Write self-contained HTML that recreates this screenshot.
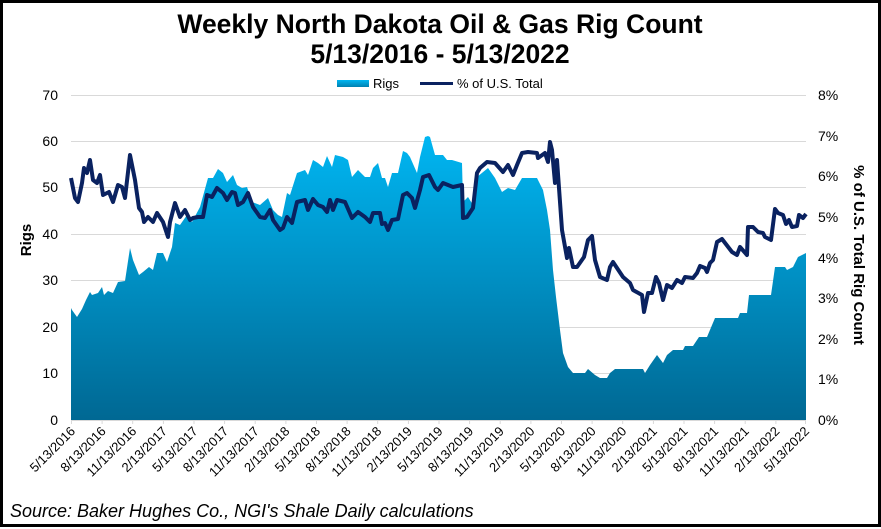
<!DOCTYPE html>
<html><head><meta charset="utf-8"><style>
html,body{margin:0;padding:0;background:#fff}
svg{display:block}
text{font-family:"Liberation Sans",Arial,sans-serif}
</style></head><body>
<svg width="881" height="529" viewBox="0 0 881 529" xmlns="http://www.w3.org/2000/svg">
<defs>
<linearGradient id="g" x1="0" y1="137" x2="0" y2="420" gradientUnits="userSpaceOnUse">
<stop offset="0" stop-color="#00b6f2"/><stop offset="1" stop-color="#006893"/>
</linearGradient>
<linearGradient id="lg" x1="0" y1="0" x2="0" y2="1"><stop offset="0" stop-color="#00b6f2"/><stop offset="1" stop-color="#0080b0"/></linearGradient>
</defs>
<rect x="1.5" y="1.5" width="878" height="524" fill="#fff" stroke="#000" stroke-width="3"/>
<text x="440" y="33" text-anchor="middle" font-size="26.5" font-weight="bold">Weekly North Dakota Oil &amp; Gas Rig Count</text>
<text x="440" y="63" text-anchor="middle" font-size="26.5" font-weight="bold">5/13/2016 - 5/13/2022</text>
<rect x="337" y="80" width="32" height="7" fill="url(#lg)"/>
<text x="373" y="88" font-size="13">Rigs</text>
<line x1="420" y1="83.5" x2="453" y2="83.5" stroke="#0a2260" stroke-width="3"/>
<text x="457" y="88" font-size="13">% of U.S. Total</text>
<g stroke="#d9d9d9" stroke-width="1">
<line x1="71" y1="95.5" x2="806" y2="95.5"/><line x1="71" y1="141.5" x2="806" y2="141.5"/><line x1="71" y1="187.5" x2="806" y2="187.5"/><line x1="71" y1="234.5" x2="806" y2="234.5"/><line x1="71" y1="280.5" x2="806" y2="280.5"/><line x1="71" y1="327.5" x2="806" y2="327.5"/><line x1="71" y1="373.5" x2="806" y2="373.5"/>
</g>
<polygon fill="url(#g)" points="71,420 71,308 72,310 77,317 82,309 86,300 90,292 92,295 98,293 102,287 104,295 108,291 113,293 118,282 125,281 130,248 133,260 139,275 143,272 149,267 153,270 157,253 163,253 167,262 172,247 175,223 180,225 187,215 192,222 200,207 208,178 213,178 218,169 223,173 227,182 233,175 237,185 242,188 247,187 252,202 260,205 268,198 273,210 278,215 282,217 287,193 290,195 297,173 305,170 308,175 313,160 318,163 323,167 327,156 332,167 335,155 343,157 348,160 352,177 358,170 365,177 370,177 373,168 378,163 382,178 385,178 388,187 392,173 398,173 403,151 407,153 410,157 417,173 420,157 425,137 428,136 430,137 435,155 443,155 447,160 452,160 462,163 463,202 468,197 473,205 477,177 488,168 495,178 502,192 508,188 515,190 522,178 537,178 543,190 547,210 550,230 553,270 556,297 560,330 563,353 568,367 573,373 585,373 588,369 595,375 600,378 607,378 610,373 615,369 643,369 645,373 650,365 657,355 663,363 667,355 673,350 683,350 685,346 693,346 699,337 707,337 715,318 738,318 740,313 747,313 749,295 771,295 775,267 785,267 787,270 793,267 798,257 806,253 806,420"/>
<polyline fill="none" stroke="#0a2260" stroke-width="4" stroke-linejoin="round" points="71,178 75,198 78,202 82,183 84,168 87,173 90,160 93,180 97,183 100,175 103,195 109,192 113,202 118,185 122,187 125,198 130,155 135,180 139,208 142,212 144,222 148,217 153,222 157,213 163,222 168,237 170,222 175,203 180,217 185,210 190,220 193,218 198,217 203,217 207,195 212,197 217,188 223,193 227,200 232,192 235,193 238,205 243,202 248,193 253,207 260,217 265,218 270,210 273,220 280,230 283,228 287,217 292,223 297,202 305,200 308,210 313,199 318,205 323,207 327,212 330,200 333,210 337,200 345,202 352,218 358,212 365,217 370,222 373,213 380,213 382,224 385,223 388,230 392,220 398,219 403,195 407,193 412,198 415,208 420,190 423,177 429,175 435,187 438,190 443,183 453,187 462,185 463,218 467,217 473,208 477,173 480,168 487,162 495,163 503,172 508,165 513,175 517,165 522,153 528,152 537,153 538,158 545,153 548,162 550,142 552,150 555,183 557,160 562,230 567,258 569,248 573,267 577,267 584,257 588,240 592,236 595,260 600,277 607,280 610,267 613,262 617,268 623,277 630,283 633,290 642,295 644,312 648,293 652,293 656,277 659,283 663,300 667,285 672,288 677,280 682,283 685,277 693,278 697,273 700,266 705,268 707,272 710,263 713,260 717,242 722,239 732,252 737,255 740,247 747,255 748,227 753,227 758,232 763,233 765,237 771,240 775,209 778,213 783,215 786,224 789,220 792,227 797,226 799,215 803,218 806,214"/>
<line x1="71" y1="420.5" x2="806" y2="420.5" stroke="#d9d9d9"/>
<g font-size="14" text-anchor="end" fill="#000">
<text x="58" y="100">70</text><text x="58" y="146">60</text><text x="58" y="192">50</text><text x="58" y="239">40</text><text x="58" y="285">30</text><text x="58" y="332">20</text><text x="58" y="378">10</text><text x="58" y="425">0</text>
</g>
<g font-size="14" fill="#000">
<text x="818" y="100">8%</text><text x="818" y="141">7%</text><text x="818" y="181">6%</text><text x="818" y="222">5%</text><text x="818" y="263">4%</text><text x="818" y="303">3%</text><text x="818" y="344">2%</text><text x="818" y="384">1%</text><text x="818" y="425">0%</text>
</g>
<text transform="translate(31,240) rotate(-90)" text-anchor="middle" font-size="15" font-weight="bold">Rigs</text>
<text transform="translate(854,255) rotate(90)" text-anchor="middle" font-size="15" font-weight="bold">% of U.S. Total Rig Count</text>
<g font-size="13" text-anchor="end" fill="#000">
<g stroke="#d9d9d9">
<line x1="71.5" y1="420" x2="71.5" y2="424"/><line x1="102.1" y1="420" x2="102.1" y2="424"/><line x1="132.7" y1="420" x2="132.7" y2="424"/><line x1="163.4" y1="420" x2="163.4" y2="424"/><line x1="194" y1="420" x2="194" y2="424"/><line x1="224.6" y1="420" x2="224.6" y2="424"/><line x1="255.2" y1="420" x2="255.2" y2="424"/><line x1="285.9" y1="420" x2="285.9" y2="424"/><line x1="316.5" y1="420" x2="316.5" y2="424"/><line x1="347.1" y1="420" x2="347.1" y2="424"/><line x1="377.7" y1="420" x2="377.7" y2="424"/><line x1="408.4" y1="420" x2="408.4" y2="424"/><line x1="439" y1="420" x2="439" y2="424"/><line x1="469.6" y1="420" x2="469.6" y2="424"/><line x1="500.2" y1="420" x2="500.2" y2="424"/><line x1="530.9" y1="420" x2="530.9" y2="424"/><line x1="561.5" y1="420" x2="561.5" y2="424"/><line x1="592.1" y1="420" x2="592.1" y2="424"/><line x1="622.7" y1="420" x2="622.7" y2="424"/><line x1="653.4" y1="420" x2="653.4" y2="424"/><line x1="684" y1="420" x2="684" y2="424"/><line x1="714.6" y1="420" x2="714.6" y2="424"/><line x1="745.2" y1="420" x2="745.2" y2="424"/><line x1="775.9" y1="420" x2="775.9" y2="424"/><line x1="805.5" y1="420" x2="805.5" y2="424"/>
</g>
<text transform="translate(76,432) rotate(-45)">5/13/2016</text>
<text transform="translate(106.6,432) rotate(-45)">8/13/2016</text>
<text transform="translate(137.2,432) rotate(-45)">11/13/2016</text>
<text transform="translate(167.9,432) rotate(-45)">2/13/2017</text>
<text transform="translate(198.5,432) rotate(-45)">5/13/2017</text>
<text transform="translate(229.1,432) rotate(-45)">8/13/2017</text>
<text transform="translate(259.7,432) rotate(-45)">11/13/2017</text>
<text transform="translate(290.4,432) rotate(-45)">2/13/2018</text>
<text transform="translate(321,432) rotate(-45)">5/13/2018</text>
<text transform="translate(351.6,432) rotate(-45)">8/13/2018</text>
<text transform="translate(382.2,432) rotate(-45)">11/13/2018</text>
<text transform="translate(412.9,432) rotate(-45)">2/13/2019</text>
<text transform="translate(443.5,432) rotate(-45)">5/13/2019</text>
<text transform="translate(474.1,432) rotate(-45)">8/13/2019</text>
<text transform="translate(504.7,432) rotate(-45)">11/13/2019</text>
<text transform="translate(535.4,432) rotate(-45)">2/13/2020</text>
<text transform="translate(566,432) rotate(-45)">5/13/2020</text>
<text transform="translate(596.6,432) rotate(-45)">8/13/2020</text>
<text transform="translate(627.2,432) rotate(-45)">11/13/2020</text>
<text transform="translate(657.9,432) rotate(-45)">2/13/2021</text>
<text transform="translate(688.5,432) rotate(-45)">5/13/2021</text>
<text transform="translate(719.1,432) rotate(-45)">8/13/2021</text>
<text transform="translate(749.7,432) rotate(-45)">11/13/2021</text>
<text transform="translate(780.4,432) rotate(-45)">2/13/2022</text>
<text transform="translate(810,432) rotate(-45)">5/13/2022</text>
</g>
<text x="10" y="517" font-size="18" font-style="italic">Source: Baker Hughes Co., NGI's Shale Daily calculations</text>
</svg>
</body></html>
